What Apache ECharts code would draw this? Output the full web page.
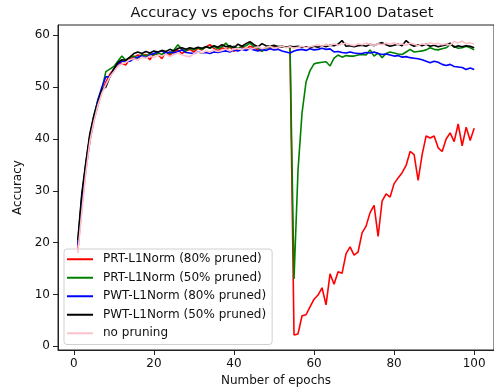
<!DOCTYPE html>
<html>
<head>
<meta charset="utf-8">
<script src="https://cdn.jsdelivr.net/npm/echarts@6/dist/echarts.min.js"></script>
<style>html,body{margin:0;padding:0;background:#fff;}#c{width:494px;height:392px;}</style>
</head>
<body>
<div id="c"></div>
<script>
const epochs = [1,2,3,4,5,6,7,8,9,10,11,12,13,14,15,16,17,18,19,20,21,22,23,24,25,26,27,28,29,30,31,32,33,34,35,36,37,38,39,40,41,42,43,44,45,46,47,48,49,50,51,52,53,54,55,56,57,58,59,60,61,62,63,64,65,66,67,68,69,70,71,72,73,74,75,76,77,78,79,80,81,82,83,84,85,86,87,88,89,90,91,92,93,94,95,96,97,98,99,100];

const prt80 = [18.5,27,34,39.5,43.5,46.5,49,51,52.5,53.5,54.5,54.6,
54.3,55.5,55.8,56.2,56.0,56.3,55.3,56.5,56.3,55.5,56.8,56.2,56.9,57.2,56.5,57.0,57.3,56.8,57.5,57.2,57.8,58.2,57.5,57.0,57.6,57.3,57.8,56.9,57.5,57.8,57.4,57.9,57.6,57.2,57.0,57.7,57.5,57.8,57.6,57.9,57.7,57.8,
2.2,2.4,5.9,6.1,7.6,9.1,9.9,11.3,8.0,14.0,12.0,14.4,14.1,17.9,19.2,17.6,18.2,21.9,23.2,25.8,27.2,21.2,28.0,29.4,28.8,31.4,32.5,33.5,34.9,37.6,37.0,32.0,37.0,40.6,40.2,40.6,38.3,37.6,40.0,41.2,39.5,42.9,38.7,42.3,39.7,42.1];

const prt50 = [20,29,35,40.5,44.5,47.5,49.5,53,53.5,54,55,56,
55.2,55.8,56.0,55.6,56.3,56.0,56.5,56.2,56.6,56.3,56.8,56.5,57.2,58.2,57.3,57.0,57.5,57.2,57.6,57.3,57.8,57.5,57.9,57.4,57.8,58.5,57.6,57.9,57.5,57.8,58.0,58.5,57.8,57.6,56.9,57.5,57.8,57.6,57.9,57.7,57.8,57.6,
13,34,45,51,53.2,54.5,54.7,54.8,54.9,54.1,55.6,56.2,55.8,56.1,56.0,56.0,56.2,56.3,56.2,57.2,56.0,56.6,55.7,56.5,56.8,56.6,56.4,56.3,56.8,57.3,56.8,56.9,57.0,57.2,57.6,57.3,57.2,57.4,57.6,58.2,57.9,57.5,57.6,57.9,57.6,57.2];

const pwt80 = [19.5,28.5,35,40.5,44,47.5,50,52,52,53.5,54.5,55,
55.0,55.0,55.5,55.8,56.0,55.7,56.2,56.5,56.8,57.0,56.5,56.8,56.6,56.9,57.2,56.7,56.6,56.5,56.8,56.6,56.7,56.5,56.8,56.7,56.9,57.0,56.8,57.2,57.0,57.3,57.1,57.4,57.2,57.0,57.3,57.1,57.4,57.2,57.3,57.0,56.8,56.6,
57.0,57.2,57.3,57.1,57.4,57.2,57.3,57.5,57.3,57.4,56.8,56.9,56.7,56.6,56.8,56.6,56.5,56.5,56.7,56.6,56.8,56.5,56.3,56.4,56.2,56.0,56.1,55.8,55.9,55.7,55.6,55.5,55.3,55.0,54.7,55.0,54.8,54.4,54.2,54.4,54.0,53.9,53.8,53.4,53.7,53.4];

const pwt50 = [20.5,29.5,35.5,41,44.5,47,49.5,50,52,53.5,54.8,55.3,
55.2,55.8,56.5,56.8,56.5,56.9,56.6,57.0,56.8,57.1,56.9,57.3,57.0,57.5,57.6,57.3,57.6,57.4,57.7,57.5,57.8,57.6,58.0,57.7,58.2,57.8,58.0,57.6,58.3,57.9,58.4,58.8,58.2,57.8,58.4,58.0,57.9,58.1,57.8,57.9,57.7,57.9,
57.8,57.9,57.7,57.8,57.6,57.9,57.7,58.0,57.8,58.1,58.0,58.3,59.0,57.9,58.0,57.8,58.0,58.1,57.9,58.3,58.0,58.4,58.6,58.2,57.9,58.1,58.3,58.0,59.0,58.3,57.9,58.2,58.0,58.3,57.9,58.1,57.8,58.0,58.2,58.5,57.7,58.0,57.8,58.0,57.9,57.6];

const noPruning = [18,26,33.5,39.5,43.3,46.5,48.8,50.5,52,53,54,54.5,
54.8,55.3,55.5,55.2,55.8,55.6,56.0,55.7,56.2,56.0,56.4,55.9,56.3,56.6,56.2,56.0,55.9,56.5,56.8,56.6,57.0,56.8,57.2,56.9,57.1,57.4,57.0,57.3,57.5,57.2,57.6,57.3,57.5,57.8,57.4,57.6,57.9,57.5,57.7,57.9,57.6,57.8,
57.5,57.7,57.9,57.6,57.8,58.0,58.2,57.9,58.3,58.0,58.4,58.1,58.3,58.5,58.2,58.0,58.4,58.2,58.5,58.3,58.0,58.4,58.2,58.5,58.3,58.6,58.2,58.4,58.1,58.5,58.3,58.0,58.4,58.2,58.6,58.3,58.5,58.2,58.4,58.1,58.8,58.5,58.9,58.4,58.6,58.3];

const seriesNames = ['PRT-L1Norm (80% pruned)','PRT-L1Norm (50% pruned)','PWT-L1Norm (80% pruned)','PWT-L1Norm (50% pruned)','no pruning'];
const seriesValues = [prt80, prt50, pwt80, pwt50, noPruning];
const seriesColors = ['#ff0000','#008000','#0000ff','#000000','#ffc0cb'];
const xTicks = [0,20,40,60,80,100];
const yTicks = [0,10,20,30,40,50,60];

const FONT = 'DejaVu Sans';
const chart = echarts.init(document.getElementById('c'), null, {renderer:'canvas'});
chart.setOption({
  animation: false,
  backgroundColor: '#fff',
  title: {
    text: 'Accuracy vs epochs for CIFAR100 Dataset',
    left: 277, top: 1, textAlign: 'center',
    textStyle: {fontFamily: FONT, fontSize: 14.5, fontWeight: 'normal', color: '#111'}
  },
  grid: {left: 58, right: -3, top: 25, bottom: 41, show: true, borderColor: '#222', borderWidth: 1, containLabel: false},
  legend: {
    orient: 'vertical', left: 64, top: 249,
    data: seriesNames,
    icon: 'rect', itemWidth: 26, itemHeight: 2, itemGap: 0,
    padding: [1, 6, 2, 3],
    backgroundColor: 'rgba(255,255,255,0.8)',
    borderColor: '#d0d0d0', borderWidth: 1, borderRadius: 3,
    textStyle: {fontFamily: FONT, fontSize: 12, color: '#111', lineHeight: 18.5, padding: [0,0,0,5]}
  },
  xAxis: {
    type: 'value', min: -3.95, max: 104.95,
    name: 'Number of epochs', nameLocation: 'middle', nameGap: 25,
    nameTextStyle: {fontFamily: FONT, fontSize: 12, color: '#111'},
    axisLine: {show: true, onZero: false, lineStyle: {color: '#222', width: 1}},
    axisTick: {show: true, length: 5, customValues: xTicks, lineStyle: {color: '#222'}},
    axisLabel: {customValues: xTicks, margin: 8, fontFamily: FONT, fontSize: 12, color: '#111'},
    splitLine: {show: false}
  },
  yAxis: {
    type: 'value', min: -0.7, max: 62,
    name: 'Accuracy', nameLocation: 'middle', nameGap: 30,
    nameTextStyle: {fontFamily: FONT, fontSize: 12, color: '#111'},
    axisLine: {show: true, onZero: false, lineStyle: {color: '#222', width: 1}},
    axisTick: {show: true, length: 5, customValues: yTicks, lineStyle: {color: '#222'}},
    axisLabel: {customValues: yTicks, margin: 8, fontFamily: FONT, fontSize: 12, color: '#111'},
    splitLine: {show: false}
  },
  series: seriesNames.map((n, k) => ({
    name: n, type: 'line', showSymbol: false, symbol: 'none',
    data: epochs.map((e, i) => [e, seriesValues[k][i]]),
    lineStyle: {color: seriesColors[k], width: 1.6},
    itemStyle: {color: seriesColors[k]},
    z: 2 + k
  }))
});
</script>
</body>
</html>
